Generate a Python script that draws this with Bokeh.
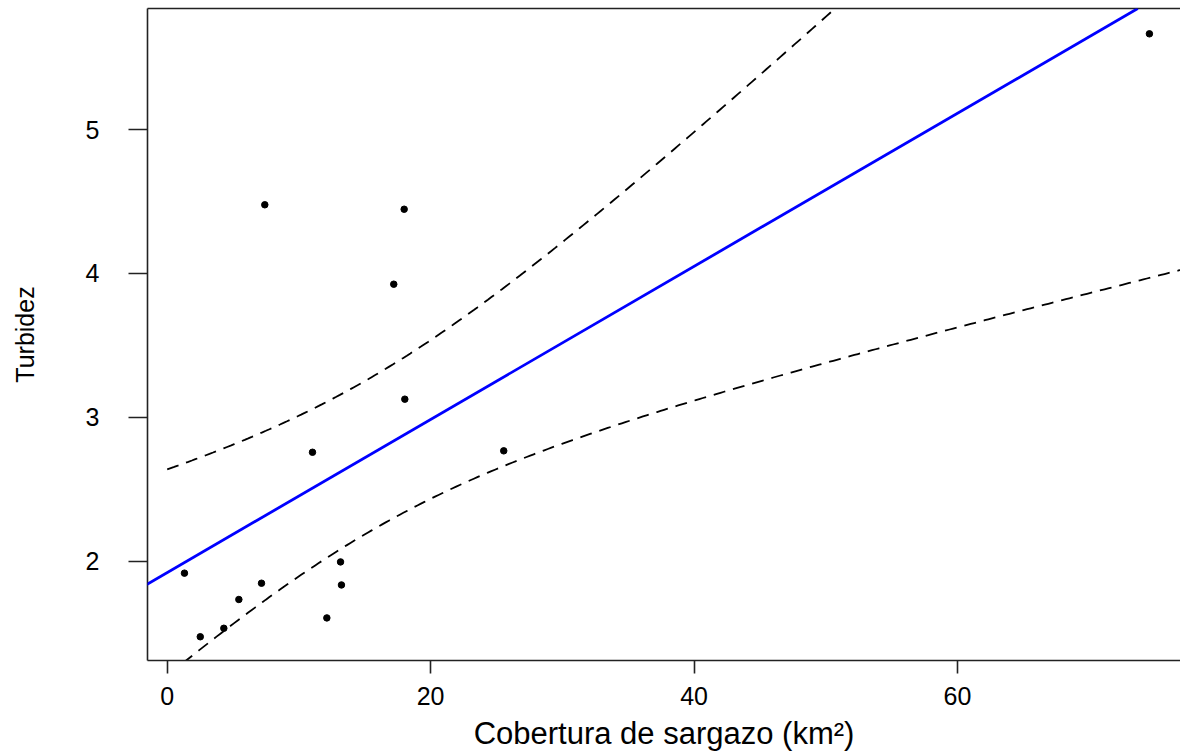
import numpy as np
from bokeh.plotting import figure
from bokeh.models import Range1d, FixedTicker, LinearAxis, Slope
from bokeh.embed import file_html
from bokeh.resources import INLINE

# ---- data ----
cobertura = [1.31, 2.51, 4.30, 5.44, 7.16, 7.41, 11.03, 12.12, 13.16, 13.23,
             17.20, 17.99, 18.04, 25.55, 74.57]
turbidez = [1.917, 1.475, 1.534, 1.734, 1.847, 4.477, 2.757, 1.606, 1.995, 1.835,
            3.925, 4.446, 3.126, 2.767, 5.665]
x_ticks = [0, 20, 40, 60]
y_ticks = [2, 3, 4, 5]
x_label = "Cobertura de sargazo (km²)"
y_label = "Turbidez"
t_975_13 = 2.160369  # Student t quantile, df = n - 2

# ---- linear fit and 95% confidence band of the mean ----
x = np.array(cobertura)
y = np.array(turbidez)
n = len(x)
xm, ym = x.mean(), y.mean()
sxx = ((x - xm) ** 2).sum()
b1 = ((x - xm) * (y - ym)).sum() / sxx
b0 = ym - b1 * xm
s = np.sqrt(((y - (b0 + b1 * x)) ** 2).sum() / (n - 2))
xg = np.linspace(0, 80, 300)
fit = b0 + b1 * xg
half = t_975_13 * s * np.sqrt(1.0 / n + (xg - xm) ** 2 / sxx)

# ---- layout ----
W, H = 1180, 755
L, T, B = 147, 8, 660
X0, X1 = -1.496, 76.93
Y0, Y1 = 1.310, 5.841

p = figure(width=W, height=H, output_backend="svg", toolbar_location=None,
           x_range=Range1d(X0, X1), y_range=Range1d(Y0, Y1),
           min_border_left=L, min_border_right=0, min_border_top=T,
           min_border_bottom=H - B, x_axis_location="below")
p.xgrid.visible = False
p.ygrid.visible = False
p.outline_line_color = None
p.background_fill_color = "white"
p.border_fill_color = "white"

font = "Liberation Sans"
ax = p.xaxis[0]
ax.ticker = FixedTicker(ticks=x_ticks)
ax.minor_tick_line_color = None
ax.major_tick_out = 13
ax.major_tick_in = 0
ax.major_label_standoff = 13
ax.major_label_text_font = font
ax.major_label_text_font_size = "25px"
ax.major_label_text_color = "black"
ax.axis_line_width = 1.6
ax.axis_line_color = "#222222"
ax.major_tick_line_width = 1.6
ax.major_tick_line_color = "#222222"
ax.axis_label = x_label
ax.axis_label_text_font = font
ax.axis_label_text_font_size = "31px"
ax.axis_label_text_font_style = "normal"
ax.axis_label_text_color = "black"
ax.axis_label_standoff = 8

ay = p.yaxis[0]
ay.ticker = FixedTicker(ticks=y_ticks)
ay.minor_tick_line_color = None
ay.major_tick_out = 19
ay.major_tick_in = 0
ay.major_label_standoff = 29
ay.major_label_text_font = font
ay.major_label_text_font_size = "25px"
ay.major_label_text_color = "black"
ay.axis_line_width = 1.6
ay.axis_line_color = "#222222"
ay.major_tick_line_width = 1.6
ay.major_tick_line_color = "#222222"
ay.axis_label = y_label
ay.axis_label_text_font = font
ay.axis_label_text_font_size = "25px"
ay.axis_label_text_font_style = "normal"
ay.axis_label_text_color = "black"
ay.axis_label_standoff = 44

top = LinearAxis(ticker=FixedTicker(ticks=[]), major_tick_out=0, major_tick_in=0,
                 minor_tick_out=0, minor_tick_in=0, major_label_standoff=0,
                 axis_line_width=1.6, axis_line_color="#222222")
p.add_layout(top, "above")

# points
p.scatter(cobertura, turbidez, size=6.5, color="black", marker="circle")

# regression line
p.add_layout(Slope(gradient=b1, y_intercept=b0, line_color="#0000FF", line_width=2.8))

# confidence band
p.line(xg, fit + half, line_color="black", line_width=1.8, line_dash="12 8")
p.line(xg, fit - half, line_color="black", line_width=1.8, line_dash="12 8")

open("out.html", "w").write(file_html(p, INLINE))
